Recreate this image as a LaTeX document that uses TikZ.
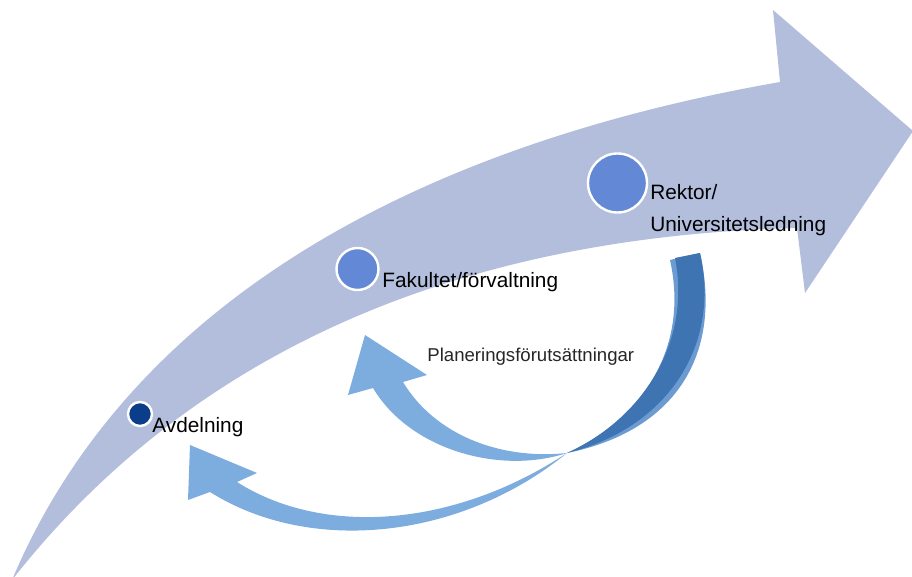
\documentclass[tikz,border=0pt]{standalone}
\usepackage{fontspec}
\setmainfont{Liberation Sans}
\definecolor{bigarrow}{HTML}{B3BEDD}
\definecolor{lightarrow}{HTML}{7DADDE}
\definecolor{midband}{HTML}{6C9BD1}
\definecolor{darkband}{HTML}{3E74B1}
\definecolor{navy}{HTML}{0A3D8A}
\definecolor{dotblue}{HTML}{6388D5}
\tikzset{
  level/.style={circle, fill=#1, draw=white, line width=1.2pt, inner sep=0pt},
  lab/.style={anchor=base west, inner sep=0pt, font=\fontsize{10.4}{16}\selectfont},
}

\begin{document}
\begin{tikzpicture}[x=0.5pt,y=-0.5pt]
\useasboundingbox (0,0) rectangle (912,577);
\clip (0,0) rectangle (912,577);

% stora pilen
\fill[bigarrow] (12,580) .. controls (130,300) and (420,145) .. (780,82)
  -- (773,10) -- (913,131) -- (805,293) -- (797,228)
  .. controls (520,235) and (220,315) .. (12,580) -- cycle;

% pil till fakultet
\fill[lightarrow] (567,453) .. controls (500,475) and (410,450) .. (373,388)
  -- (348,395) -- (365,335) -- (427,375) -- (403,382)
  .. controls (435,435) and (500,460) .. (567,453) -- cycle;
% pil till avdelning
\fill[lightarrow] (567,453) .. controls (460,540) and (310,555) .. (210,492)
  -- (188,500) -- (190,445) -- (257,473) -- (237,482)
  .. controls (320,535) and (450,530) .. (567,453) -- cycle;

% bandet fran rektor
\fill[midband] (567,453) .. controls (640,420) and (690,350) .. (670,260)
  -- (700,253) .. controls (722,350) and (680,430) .. (567,453) -- cycle;
\fill[darkband] (567,453) .. controls (640,420) and (692,345) .. (675,258)
  -- (700,253) .. controls (721,345) and (668,428) .. (567,453) -- cycle;

% nivaer
\node[level=navy, minimum size=12pt] (avd) at (140,414) {};
\node[level=dotblue, minimum size=21pt] (fak) at (357.5,269) {};
\node[level=dotblue, minimum size=29.5pt] (rek) at (617.5,183) {};

\node[lab] (avdtext) at (152,433) {Avdelning};
\node[lab] (faktext) at (382,288) {Fakultet/förvaltning};
\node[lab] (rektext) at (650,200) {Rektor/};
\node[lab] (rektext2) at (650,232) {Universitetsledning};

\node[anchor=base west, inner sep=0pt, text=black!85, font=\fontsize{9.3}{11}\selectfont] (plan) at (427,362) {Planeringsförutsättningar};

\end{tikzpicture}
\end{document}
